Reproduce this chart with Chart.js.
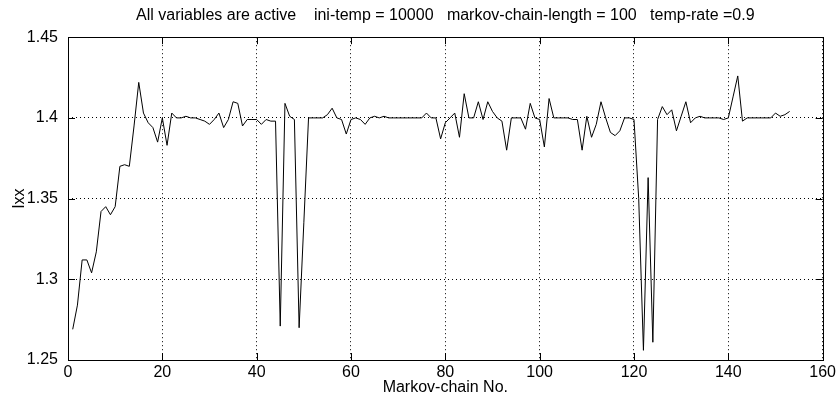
<!DOCTYPE html>
<html>
<head>
<meta charset="utf-8">
<script src="https://cdn.jsdelivr.net/npm/chart.js@4.4.1/dist/chart.umd.min.js"></script>
<style>
  html, body { margin: 0; padding: 0; background: #fff; }
  #wrap { width: 839px; height: 405px; }
</style>
</head>
<body>
<div id="wrap"><canvas id="IxxChart" width="839" height="405"></canvas></div>
<script>
const titleText = 'All variables are active    ini-temp = 10000   markov-chain-length = 100   temp-rate =0.9';
const xTicks = [0, 20, 40, 60, 80, 100, 120, 140, 160];
const yTicks = [1.25, 1.3, 1.35, 1.4, 1.45];

// Ixx value for each Markov chain, 1..153
const ixx = [
    1.269, 1.284, 1.312, 1.312, 1.304, 1.317, 1.342, 1.345, 1.340, 1.345,
    1.370, 1.371, 1.370, 1.395, 1.422, 1.403, 1.397, 1.394, 1.385, 1.400,
    1.383, 1.403, 1.400, 1.400, 1.401, 1.400, 1.400, 1.399, 1.398, 1.396,
    1.399, 1.403, 1.394, 1.399, 1.410, 1.409, 1.395, 1.399, 1.399, 1.399,
    1.396, 1.399, 1.398, 1.398, 1.271, 1.409, 1.401, 1.399, 1.270, 1.335,
    1.400, 1.400, 1.400, 1.400, 1.402, 1.406, 1.400, 1.399, 1.390, 1.399,
    1.400, 1.399, 1.396, 1.400, 1.401, 1.400, 1.401, 1.400, 1.400, 1.400,
    1.400, 1.400, 1.400, 1.400, 1.400, 1.403, 1.400, 1.400, 1.387, 1.397,
    1.400, 1.403, 1.388, 1.415, 1.400, 1.400, 1.410, 1.399, 1.410, 1.404,
    1.400, 1.398, 1.380, 1.400, 1.400, 1.400, 1.393, 1.409, 1.400, 1.399,
    1.382, 1.412, 1.400, 1.400, 1.400, 1.400, 1.399, 1.399, 1.380, 1.401,
    1.388, 1.396, 1.410, 1.400, 1.391, 1.389, 1.392, 1.400, 1.400, 1.399,
    1.350, 1.256, 1.363, 1.261, 1.399, 1.407, 1.402, 1.405, 1.392, 1.401,
    1.410, 1.397, 1.400, 1.401, 1.400, 1.400, 1.400, 1.400, 1.399, 1.400,
    1.413, 1.426, 1.398, 1.400, 1.400, 1.400, 1.400, 1.400, 1.400, 1.403,
    1.401, 1.402, 1.404
];
const chainNo = ixx.map((v, i) => i + 1);

const FONT = 'Liberation Sans, Arial, Helvetica, sans-serif';

// box round the plot and inward tick marks on all four sides, like matlab
const boxPlugin = {
    id: 'boxTicks',
    afterDraw(chart) {
        const { ctx, chartArea: a, scales } = chart;
        const len = 7;
        ctx.save();
        ctx.strokeStyle = '#000';
        ctx.lineWidth = 1;
        ctx.beginPath();
        xTicks.forEach((t) => {
            const px = Math.round(scales.x.getPixelForValue(t)) + 0.5;
            ctx.moveTo(px, a.bottom); ctx.lineTo(px, a.bottom - len);
            ctx.moveTo(px, a.top); ctx.lineTo(px, a.top + len);
        });
        yTicks.forEach((t) => {
            const py = Math.round(scales.y.getPixelForValue(t)) + 0.5;
            ctx.moveTo(a.left, py); ctx.lineTo(a.left + len, py);
            ctx.moveTo(a.right, py); ctx.lineTo(a.right - len, py);
        });
        ctx.stroke();
        ctx.strokeRect(Math.round(a.left) + 0.5, Math.round(a.top) + 0.5,
            Math.round(a.right - a.left), Math.round(a.bottom - a.top));
        ctx.restore();
    }
};

const ctx = document.getElementById('IxxChart');

new Chart(ctx, {
    type: 'line',
    data: {
        datasets: [{
            label: 'Ixx',
            data: chainNo.map((n, i) => ({ x: n, y: ixx[i] })),
            borderColor: '#000',
            borderWidth: 1,
            pointRadius: 0,
            tension: 0,
            fill: false
        }]
    },
    options: {
        responsive: false,
        animation: false,
        devicePixelRatio: 1,
        layout: { padding: { left: 0, right: 16, top: 0, bottom: 0 } },
        plugins: {
            legend: { display: false },
            tooltip: { enabled: false },
            title: {
                display: true,
                text: titleText,
                fullSize: false,
                color: '#000',
                font: { family: FONT, size: 16, weight: 'normal' },
                padding: { top: 6, bottom: 12 }
            }
        },
        scales: {
            x: {
                type: 'linear',
                min: 0,
                max: 160,
                afterBuildTicks: (s) => { s.ticks = xTicks.map((v) => ({ value: v })); },
                afterFit: (s) => { s.height = 45; },
                grid: {
                    color: '#000',
                    lineWidth: 1,
                    drawTicks: false
                },
                border: { display: false, dash: [1, 3] },
                ticks: {
                    color: '#000',
                    padding: 3,
                    maxRotation: 0,
                    font: { family: FONT, size: 16 }
                },
                title: {
                    display: true,
                    text: 'Markov-chain No.',
                    color: '#000',
                    font: { family: FONT, size: 16 },
                    padding: { top: 0, bottom: 8 }
                }
            },
            y: {
                type: 'linear',
                min: 1.25,
                max: 1.45,
                afterBuildTicks: (s) => { s.ticks = yTicks.map((v) => ({ value: v })); },
                afterFit: (s) => { s.width = 68; },
                grid: {
                    color: '#000',
                    lineWidth: 1,
                    drawTicks: false
                },
                border: { display: false, dash: [1, 3] },
                ticks: {
                    color: '#000',
                    padding: 10,
                    font: { family: FONT, size: 16 },
                    callback: (v) => String(Number(v.toFixed(2)))
                },
                title: {
                    display: true,
                    text: 'Ixx',
                    color: '#000',
                    font: { family: FONT, size: 16 },
                    padding: { top: 10, bottom: 0 }
                }
            }
        }
    },
    plugins: [boxPlugin]
});
</script>
</body>
</html>
